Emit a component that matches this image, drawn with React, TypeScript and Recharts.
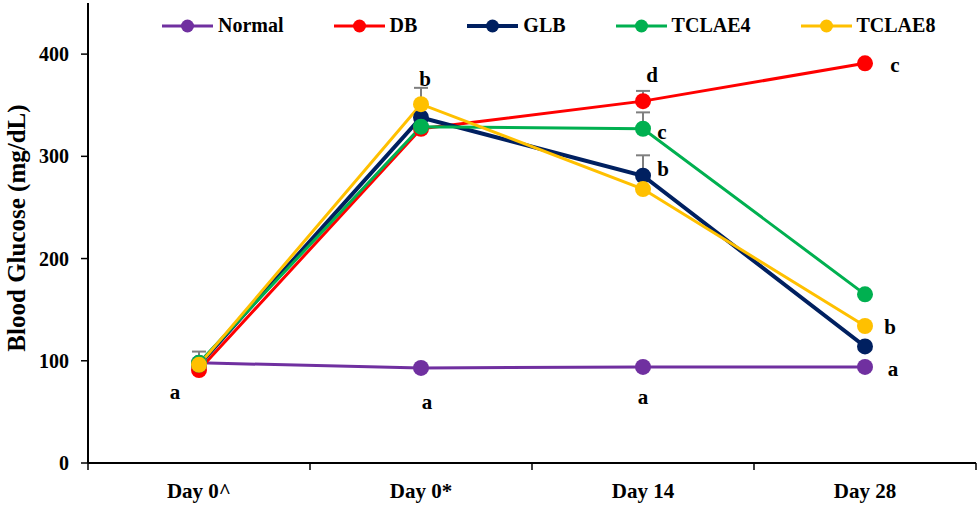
import React from 'react'
import { LineChart, Line, XAxis, YAxis, ErrorBar, LabelList } from 'recharts'

const categories = ['Day 0^', 'Day 0*', 'Day 14', 'Day 28']
const normal = [98, 93, 94, 94]
const db = [91, 327, 354, 391]
const glb = [96, 338, 281, 114]
const tclae4 = [98, 329, 327, 165]
const tclae8 = [96, 351, 268, 134]

// upward-only SEM bars (only where visible)
const normalErr = [11, null, null, null]
const dbErr = [null, null, 10, null]
const glbErr = [null, null, 20, null]
const tclae4Err = [null, null, 16, null]
const tclae8Err = [null, 16, null, null]

// significance letters
const normalLetters = ['a', 'a', 'a', 'a']
const dbLetters = [null, null, 'd', 'c']
const glbLetters = [null, null, 'b', null]
const tclae4Letters = [null, null, 'c', null]
const tclae8Letters = [null, 'b', null, 'b']

const yTicks = [0, 100, 200, 300, 400]

const series = [
  { key: 'normal', name: 'Normal', color: '#7030A0', width: 3 },
  { key: 'db', name: 'DB', color: '#FF0000', width: 3 },
  { key: 'glb', name: 'GLB', color: '#002060', width: 4 },
  { key: 'tclae4', name: 'TCLAE4', color: '#00B050', width: 3 },
  { key: 'tclae8', name: 'TCLAE8', color: '#FFC000', width: 3 },
]

const toErr = (e: number | null) => (e == null ? null : [0, e])

const data = categories.map((day, i) => ({
  day,
  normal: normal[i],
  db: db[i],
  glb: glb[i],
  tclae4: tclae4[i],
  tclae8: tclae8[i],
  normalErr: toErr(normalErr[i]),
  dbErr: toErr(dbErr[i]),
  glbErr: toErr(glbErr[i]),
  tclae4Err: toErr(tclae4Err[i]),
  tclae8Err: toErr(tclae8Err[i]),
  normalL: normalLetters[i],
  dbL: dbLetters[i],
  glbL: glbLetters[i],
  tclae4L: tclae4Letters[i],
  tclae8L: tclae8Letters[i],
}))

const FONT = '"Liberation Serif", "Times New Roman", serif'

// where each letter sits relative to its point
const letterOffsets: Record<string, Record<number, [number, number]>> = {
  normal: { 0: [-24, 36], 1: [6, 41], 2: [0, 37], 3: [28, 9] },
  db: { 2: [9, -19], 3: [30, 9] },
  glb: { 2: [20, 0] },
  tclae4: { 2: [19, 10] },
  tclae8: { 1: [4, -18], 3: [25, 8] },
}

const makeLetter = (key: string) => (props: any) => {
  const { x, y, index, value } = props
  if (!value) return null
  const off = letterOffsets[key][index] || [0, 0]
  return (
    <text x={x + off[0]} y={y + off[1]} textAnchor="middle" fontFamily={FONT} fontWeight="bold" fontSize={21} fill="#000">
      {value}
    </text>
  )
}

const PLOT_LEFT = 88
const PLOT_RIGHT = 976
const band = (PLOT_RIGHT - PLOT_LEFT) / categories.length

const XTick = (props: any) => {
  const { x, y, payload, index } = props
  return (
    <g>
      <line x1={x - band / 2} y1={y} x2={x - band / 2} y2={y + 7} stroke="#000" strokeWidth={1.5} />
      {index === categories.length - 1 && (
        <line x1={x + band / 2} y1={y} x2={x + band / 2} y2={y + 7} stroke="#000" strokeWidth={1.5} />
      )}
      <text x={x} y={y + 35} textAnchor="middle" fontFamily={FONT} fontWeight="bold" fontSize={21} fill="#000">
        {payload.value}
      </text>
    </g>
  )
}

const ChartLegend = () => (
  <div
    style={{
      position: 'absolute',
      left: 162,
      top: 14,
      display: 'flex',
      alignItems: 'center',
      fontFamily: FONT,
      fontWeight: 'bold',
      fontSize: 20,
      whiteSpace: 'nowrap',
    }}
  >
    {series.map((s) => (
      <div key={s.key} style={{ display: 'flex', alignItems: 'center', marginRight: 50 }}>
        <svg width={51} height={16} style={{ marginRight: 5 }}>
          <line x1={0} y1={8} x2={51} y2={8} stroke={s.color} strokeWidth={s.width} />
          <circle cx={25.5} cy={8} r={6.5} fill={s.color} />
        </svg>
        <span>{s.name}</span>
      </div>
    ))}
  </div>
)

const YLabel = () => (
  <text
    x={16}
    y={228}
    transform="rotate(-90 16 228)"
    textAnchor="middle"
    dominantBaseline="central"
    fontFamily={FONT}
    fontWeight="bold"
    fontSize={25}
    fill="#000"
  >
    Blood Glucose (mg/dL)
  </text>
)

export default function App() {
  return (
    <div style={{ position: 'absolute', left: 0, top: 0, width: 980, height: 506, background: '#fff' }}>
      <LineChart width={980} height={506} data={data} margin={{ top: 3, right: 980 - PLOT_RIGHT, left: 0, bottom: 3 }}>
        <XAxis
          dataKey="day"
          height={40}
          tickLine={false}
          tickSize={0}
          tickMargin={0}
          interval={0}
          padding={{ left: band / 2, right: band / 2 }}
          tick={<XTick />}
          axisLine={{ stroke: '#000', strokeWidth: 2 }}
        />
        <YAxis
          width={PLOT_LEFT}
          domain={[0, 450]}
          ticks={yTicks}
          tickSize={7}
          tickMargin={12}
          axisLine={{ stroke: '#000', strokeWidth: 2 }}
          tickLine={{ stroke: '#000', strokeWidth: 1.5 }}
          tick={{ fontFamily: FONT, fontWeight: 'bold', fontSize: 20, fill: '#000' }}
          label={<YLabel />}
        />
        {series.map((s) => (
          <Line
            key={s.key}
            dataKey={s.key}
            name={s.name}
            stroke={s.color}
            strokeWidth={s.width}
            dot={{ r: 8, fill: s.color, stroke: s.color, strokeWidth: 0 }}
            activeDot={false}
            isAnimationActive={false}
          >
            <ErrorBar dataKey={s.key + 'Err'} direction="y" width={7} stroke="#7F7F7F" strokeWidth={2} />
            <LabelList dataKey={s.key + 'L'} content={makeLetter(s.key)} />
          </Line>
        ))}
      </LineChart>
      <ChartLegend />
    </div>
  )
}
